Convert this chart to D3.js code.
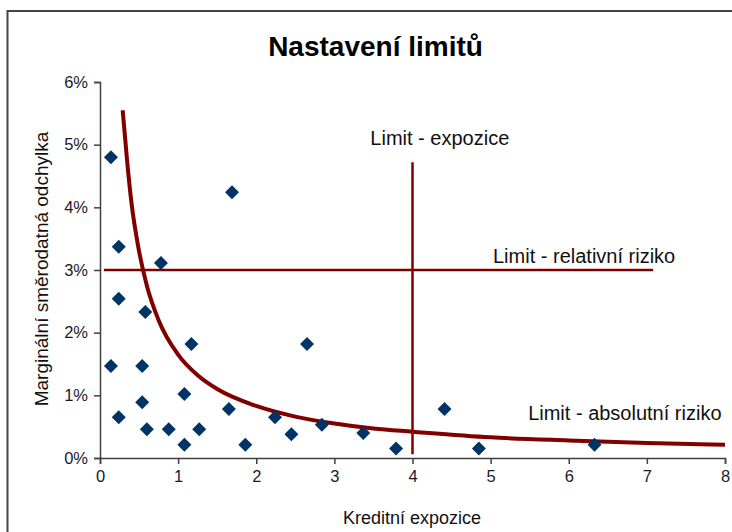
<!DOCTYPE html>
<html>
<head>
<meta charset="utf-8">
<script src="https://cdn.jsdelivr.net/npm/d3@7"></script>
<style>
  html, body { margin: 0; padding: 0; background: #fff; }
  svg { display: block; font-family: "Liberation Sans", Arial, sans-serif; }
</style>
</head>
<body>
<svg id="chart" width="732" height="532"></svg>
<script>
// Exposure (x) and marginal standard deviation in % (y) of individual positions
const pointX = [0.14, 0.24, 0.78, 1.69, 0.24, 0.58, 1.17, 2.65, 0.14, 0.54, 1.08, 0.54, 0.24, 0.60, 0.88, 1.27, 1.08, 1.65, 1.86, 2.24, 2.45, 2.84, 3.37, 3.79, 4.41, 4.85, 6.33];
const pointY = [4.80, 3.37, 3.11, 4.24, 2.54, 2.33, 1.82, 1.82, 1.47, 1.47, 1.02, 0.89, 0.65, 0.46, 0.46, 0.46, 0.21, 0.78, 0.21, 0.65, 0.38, 0.53, 0.40, 0.15, 0.78, 0.15, 0.21];

// Absolute risk limit curve
const curveX = [0.29, 0.35, 0.4, 0.5, 0.6, 0.75, 1.0, 1.25, 1.5, 2.0, 2.5, 3.0, 3.5, 4.0, 5.0, 6.0, 7.0, 8.0];
const curveY = [5.55, 4.70, 4.10, 3.30, 2.75, 2.20, 1.65, 1.32, 1.10, 0.83, 0.66, 0.55, 0.47, 0.42, 0.33, 0.28, 0.24, 0.21];

// Relative risk limit (horizontal) and exposure limit (vertical)
const relLimitY = 3;
const relLimitX = [0.05, 7.08];
const expLimitX = 4;
const expLimitY = [0.06, 4.72];

const xTicks = [0, 1, 2, 3, 4, 5, 6, 7, 8];
const yTicks = [0, 1, 2, 3, 4, 5, 6];

const title = "Nastavení limitů";
const xTitle = "Kreditní expozice";
const yTitle = "Marginální směrodatná odchylka";
const labels = [
  { text: "Limit - expozice", x: 3.46, y: 4.99 },
  { text: "Limit - relativní riziko", x: 5.03, y: 3.11 },
  { text: "Limit - absolutní riziko", x: 5.48, y: 0.61 }
];

const svg = d3.select("#chart");
const limitColor = "#800000";
const pointColor = "#003366";
const axisColor = "#404040";
const textColor = "#111";

// outer frame (continues past the right and bottom edges)
svg.append("rect")
  .attr("x", 7.5).attr("y", 11)
  .attr("width", 740).attr("height", 540)
  .attr("fill", "none").attr("stroke", "#444").attr("stroke-width", 2);

const x = d3.scaleLinear().domain([0, 8]).range([100, 725]);
const y = d3.scaleLinear().domain([0, 6]).range([458, 82]);

// axes
const xAxis = svg.append("g").attr("transform", `translate(0,${y(0)})`)
  .call(d3.axisBottom(x).tickValues(xTicks).tickFormat(d3.format("d")).tickSizeOuter(0).tickSize(6).tickPadding(6));
const yAxis = svg.append("g").attr("transform", `translate(${x(0)},0)`)
  .call(d3.axisLeft(y).tickValues(yTicks).tickFormat(d => d + "%").tickSizeOuter(0).tickSize(6).tickPadding(6));
[xAxis, yAxis].forEach(g => {
  g.select(".domain").attr("stroke", axisColor).attr("stroke-width", 1.5);
  g.selectAll(".tick line").attr("stroke", axisColor).attr("stroke-width", 1.5);
  g.selectAll(".tick text").attr("fill", "#1a1a2a").style("font-size", "16.5px")
    .style("font-family", "'Liberation Sans', Arial, sans-serif");
});

// limit lines
svg.append("line")
  .attr("x1", x(relLimitX[0])).attr("x2", x(relLimitX[1]))
  .attr("y1", y(relLimitY)).attr("y2", y(relLimitY))
  .attr("stroke", limitColor).attr("stroke-width", 2.5);
svg.append("line")
  .attr("x1", x(expLimitX)).attr("x2", x(expLimitX))
  .attr("y1", y(expLimitY[0])).attr("y2", y(expLimitY[1]))
  .attr("stroke", limitColor).attr("stroke-width", 2.5);

// absolute risk curve
const curveData = curveX.map((v, i) => [v, curveY[i]]);
svg.append("path")
  .datum(curveData)
  .attr("fill", "none")
  .attr("stroke", limitColor)
  .attr("stroke-width", 4)
  .attr("d", d3.line().x(d => x(d[0])).y(d => y(d[1])).curve(d3.curveMonotoneX));

// positions as diamonds
const diamond = d3.symbol().type(d3.symbolSquare).size(98);
svg.append("g").selectAll("path")
  .data(pointX.map((v, i) => [v, pointY[i]]))
  .join("path")
  .attr("d", diamond)
  .attr("transform", d => `translate(${x(d[0])},${y(d[1])}) rotate(45)`)
  .attr("fill", pointColor);

// annotations
svg.append("g").selectAll("text")
  .data(labels)
  .join("text")
  .attr("x", d => x(d.x)).attr("y", d => y(d.y))
  .attr("fill", textColor)
  .style("font-size", "20px")
  .text(d => d.text);

// titles
svg.append("text")
  .attr("x", 375.5).attr("y", 56)
  .attr("text-anchor", "middle")
  .attr("fill", "#000")
  .style("font-size", "28px").style("font-weight", "bold")
  .text(title);
svg.append("text")
  .attr("x", 412).attr("y", 524)
  .attr("text-anchor", "middle")
  .attr("fill", textColor)
  .style("font-size", "18px")
  .text(xTitle);
svg.append("text")
  .attr("transform", "translate(48,269) rotate(-90)")
  .attr("text-anchor", "middle")
  .attr("fill", textColor)
  .style("font-size", "19px")
  .text(yTitle);
</script>
</body>
</html>
